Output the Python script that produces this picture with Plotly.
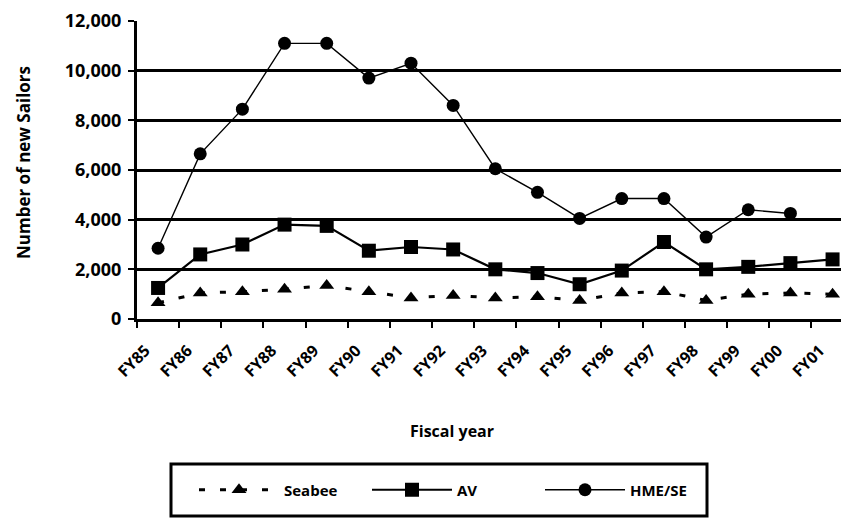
import plotly.graph_objects as go

years = ["FY85", "FY86", "FY87", "FY88", "FY89", "FY90", "FY91", "FY92", "FY93",
         "FY94", "FY95", "FY96", "FY97", "FY98", "FY99", "FY00", "FY01"]
seabee = [650, 1050, 1100, 1200, 1350, 1100, 850, 950, 850, 900, 750, 1050, 1100, 750, 1000, 1050, 1000]
av = [1250, 2600, 3000, 3800, 3750, 2750, 2900, 2800, 2000, 1850, 1400, 1950, 3100, 2000, 2100, 2250, 2400]
hme_se = [2850, 6650, 8450, 11100, 11100, 9700, 10300, 8600, 6050, 5100, 4050, 4850, 4850, 3300, 4400, 4250, None]
y_ticks = [0, 2000, 4000, 6000, 8000, 10000, 12000]

FONT = "Open Sans"
W, H = 841, 519
ML, MR, MT, MB = 137, 0, 21, 200
PW, PH = W - ML - MR, H - MT - MB

def px_x(p):
    return (p - ML) / PW

def px_y(p):
    return (H - MB - p) / PH

xs = list(range(len(years)))

fig = go.Figure()
fig.add_trace(go.Scatter(
    x=xs, y=seabee, name="Seabee", mode="lines+markers",
    line=dict(color="black", width=3, dash="6px,15px"),
    marker=dict(symbol="triangle-up", size=13, color="black"),
))
fig.add_trace(go.Scatter(
    x=xs, y=av, name="AV", mode="lines+markers",
    line=dict(color="black", width=2.2),
    marker=dict(symbol="square", size=14, color="black"),
))
fig.add_trace(go.Scatter(
    x=xs, y=hme_se, name="HME/SE", mode="lines+markers",
    line=dict(color="black", width=1.4),
    marker=dict(symbol="circle", size=13, color="black"),
))

fig.update_layout(
    width=W, height=H,
    margin=dict(l=ML, r=MR, t=MT, b=MB),
    paper_bgcolor="white", plot_bgcolor="white",
    font=dict(family=FONT, color="black", size=16, weight="bold"),
    showlegend=True,
    legend=dict(
        orientation="h", x=px_x(194), xanchor="left", y=px_y(490), yanchor="middle",
        bgcolor="rgba(0,0,0,0)", borderwidth=0,
        itemwidth=80, entrywidth=78, entrywidthmode="pixels",
        font=dict(family=FONT, size=15, color="black", weight="bold"),
    ),
    shapes=[dict(
        type="rect", xref="paper", yref="paper",
        x0=px_x(171), x1=px_x(707), y0=px_y(464), y1=px_y(516),
        line=dict(color="black", width=3), fillcolor="rgba(0,0,0,0)", layer="below",
    )],
    annotations=[
        dict(text="Fiscal year", xref="paper", yref="paper", x=px_x(452), y=px_y(431),
             xanchor="center", yanchor="middle",
             showarrow=False, font=dict(family=FONT, size=16, weight="bold")),
        dict(text="Number of new Sailors", xref="paper", yref="paper", x=px_x(23), y=px_y(163),
             xanchor="center", yanchor="middle",
             showarrow=False, textangle=-90, font=dict(family=FONT, size=17, weight="bold")),
    ],
)

fig.update_xaxes(
    range=[-0.5, 16.2],
    tickmode="array", tickvals=[i - 0.3 for i in xs], ticktext=years,
    tickangle=-45, ticks="", ticklabelstandoff=13,
    tickfont=dict(family=FONT, size=16, weight="bold"),
    showline=True, linecolor="black", linewidth=3,
    showgrid=False, zeroline=False,
    minor=dict(tickmode="array", tickvals=[i - 0.5 for i in xs], ticks="outside",
               ticklen=6, tickwidth=2, tickcolor="black", showgrid=False),
)
fig.update_yaxes(
    range=[0, 12000], tickmode="array", tickvals=y_ticks,
    tickformat=",", ticks="outside", ticklen=6, tickwidth=2, tickcolor="black",
    ticklabelstandoff=3,
    tickfont=dict(family=FONT, size=18, weight="bold"),
    showline=True, linecolor="black", linewidth=3,
    showgrid=True, gridcolor="black", gridwidth=3, zeroline=False,
)

fig.write_html("out.html", config={"displayModeBar": False},
               post_script="document.body.style.margin='0';")
